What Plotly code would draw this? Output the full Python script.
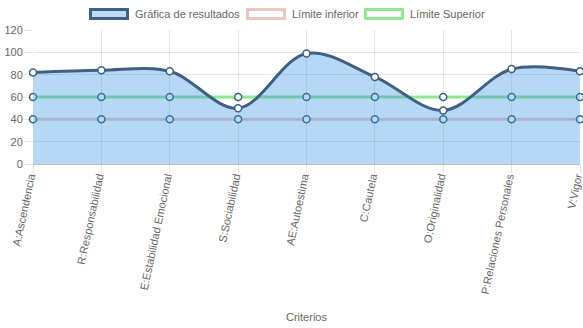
import plotly.graph_objects as go

# Criteria evaluated and their scores
criterios = [
    "A:Ascendencia",
    "R:Responsabilidad",
    "E:Estabilidad Emocional",
    "S:Sociabilidad",
    "AE:Autoestima",
    "C:Cautela",
    "O:Originalidad",
    "P:Relaciones Personales",
    "V:Vigor",
]
resultados = [82, 84, 83, 50, 99, 78, 48, 85, 83]
limite_inferior = [40, 40, 40, 40, 40, 40, 40, 40, 40]
limite_superior = [60, 60, 60, 60, 60, 60, 60, 60, 60]

y_ticks = [0, 20, 40, 60, 80, 100, 120]

W, H = 583, 328
M_L, M_R, M_T, M_B = 33, 3, 30, 164

LINE_DARK = "rgb(62,96,130)"
FILL_BLUE = "rgba(49,144,226,0.35)"
PINK = "rgb(232,200,190)"
GREEN = "rgb(144,232,144)"
FONT = "Liberation Sans, Arial, sans-serif"

fig = go.Figure()

marker_style = dict(size=7, color="white", line=dict(width=1.5, color=LINE_DARK))

# Limit lines on the base axes
fig.add_trace(go.Scatter(
    x=criterios, y=limite_inferior, name="Límite inferior",
    mode="lines+markers", line=dict(color=PINK, width=3),
    marker=marker_style, cliponaxis=False, showlegend=False,
))
fig.add_trace(go.Scatter(
    x=criterios, y=limite_superior, name="Límite Superior",
    mode="lines+markers", line=dict(color=GREEN, width=3),
    marker=marker_style, cliponaxis=False, showlegend=False,
))
# Results on overlaid axes so the translucent fill sits above the limit lines
fig.add_trace(go.Scatter(
    x=criterios, y=resultados, name="Gráfica de resultados",
    xaxis="x2", yaxis="y2",
    mode="lines+markers", fill="tozeroy", fillcolor=FILL_BLUE,
    line=dict(color=LINE_DARK, width=3, shape="spline", smoothing=1.0),
    marker=marker_style, cliponaxis=False, showlegend=False,
))

grid = "rgba(0,0,0,0.1)"
x_range = [0, len(criterios) - 1]
y_range = [0, 120]

fig.update_layout(
    xaxis=dict(
        type="category", range=x_range,
        showgrid=True, gridcolor=grid, gridwidth=1,
        ticks="outside", ticklen=8, tickcolor=grid,
        tickangle=-78, tickfont=dict(family=FONT, size=11, color="#666"),
        ticklabelshift=-3, ticklabelstandoff=-7,
        showline=True, linecolor="rgba(0,0,0,0.25)", linewidth=1,
        zeroline=False,
    ),
    yaxis=dict(
        range=y_range, tickvals=y_ticks,
        showgrid=True, gridcolor=grid, gridwidth=1,
        ticks="outside", ticklen=8, tickcolor=grid,
        tickfont=dict(family=FONT, size=11, color="#666"),
        ticklabelstandoff=-1,
        zeroline=False, showline=False,
    ),
    xaxis2=dict(
        type="category", range=x_range, overlaying="x",
        visible=False, showgrid=False, zeroline=False,
    ),
    yaxis2=dict(
        range=y_range, overlaying="y",
        visible=False, showgrid=False, zeroline=False,
    ),
)


def px_x(px):
    return (px - M_L) / (W - M_L - M_R)


def px_y(py):
    return (H - M_B - py) / (H - M_T - M_B)


# Legend drawn as boxes with labels along the top
legend_items = [
    ("Gráfica de resultados", 89, "rgb(184,218,246)", LINE_DARK),
    ("Límite inferior", 246, "white", PINK),
    ("Límite Superior", 364, "white", GREEN),
]
shapes = []
annotations = []
for label, x0, fillc, linec in legend_items:
    shapes.append(dict(
        type="rect", xref="paper", yref="paper",
        x0=px_x(x0 + 1.5), x1=px_x(x0 + 38.5),
        y0=px_y(18.5), y1=px_y(9.5),
        fillcolor=fillc, line=dict(color=linec, width=3), layer="above",
    ))
    annotations.append(dict(
        text=label, xref="paper", yref="paper",
        x=px_x(x0 + 44), y=px_y(14), xanchor="left", yanchor="middle",
        showarrow=False, font=dict(family=FONT, size=11, color="#666"),
    ))

annotations.append(dict(
    text="Criterios", xref="paper", yref="paper",
    x=0.5, y=px_y(317), xanchor="center", yanchor="middle",
    showarrow=False, font=dict(family=FONT, size=11, color="#666"),
))

fig.update_layout(
    width=W, height=H,
    margin=dict(l=M_L, r=M_R, t=M_T, b=M_B, autoexpand=False),
    paper_bgcolor="white", plot_bgcolor="white",
    shapes=shapes, annotations=annotations,
    showlegend=False,
    font=dict(family=FONT, size=11, color="#666"),
)

fig.write_html("out.html")
